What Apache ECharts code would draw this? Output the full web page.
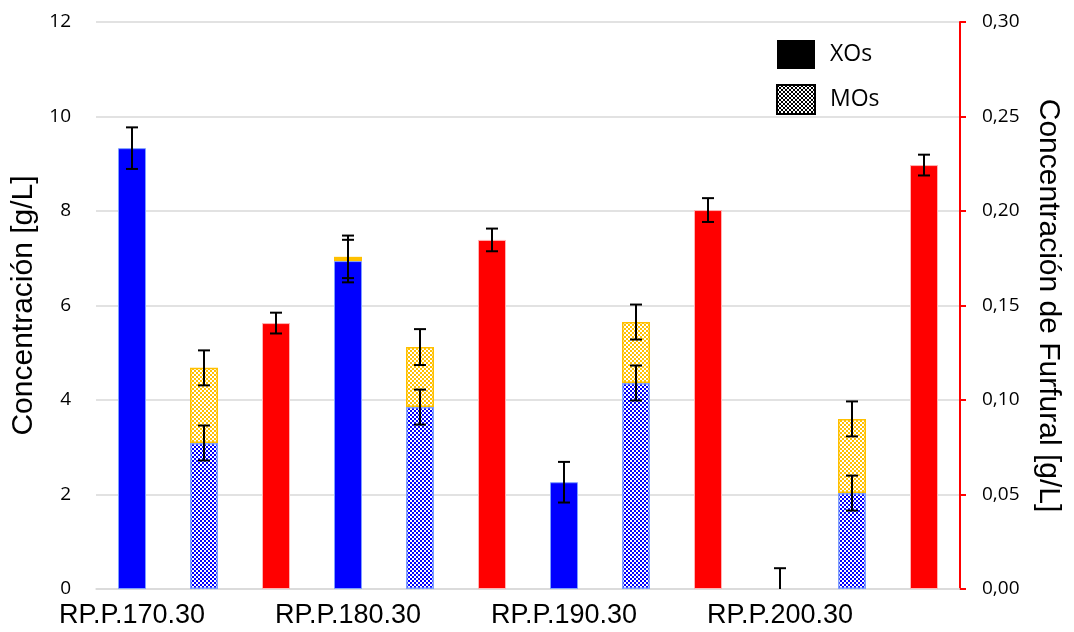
<!DOCTYPE html>
<html>
<head>
<meta charset="utf-8">
<script src="https://cdn.jsdelivr.net/npm/echarts@6/dist/echarts.min.js"></script>
<style>html,body{margin:0;padding:0;background:#fff;}#c{width:1074px;height:632px;}</style>
</head>
<body>
<div id="c"></div>
<script>
// ---- data ----
const groups = ['RP.P.170.30', 'RP.P.180.30', 'RP.P.190.30', 'RP.P.200.30'];
const xos = [9.33, 6.94, 2.26, 0];
const xosErr = [0.44, 0.45, 0.43, 0.44];
const xosTop = [0, 0.09, 0, 0];
const xosTopErr = [0, 0.45, 0, 0];
const mosBlue = [3.09, 3.85, 4.36, 2.03];
const mosBlueErr = [0.37, 0.37, 0.37, 0.37];
const mosYellow = [1.59, 1.27, 1.29, 1.57];
const mosYellowErr = [0.37, 0.38, 0.37, 0.37];
const furfural = [0.1407, 0.1847, 0.2005, 0.2243];
const furfuralErr = [0.0055, 0.006, 0.0063, 0.0055];
const legendNames = ['XOs', 'MOs'];

// ---- patterns ----
function checker(fg, bg) {
  const c = document.createElement('canvas');
  c.width = 4; c.height = 4;
  const g = c.getContext('2d');
  g.fillStyle = bg; g.fillRect(0, 0, 4, 4);
  g.fillStyle = fg; g.fillRect(0, 0, 2, 2); g.fillRect(2, 2, 2, 2);
  return { image: c, repeat: 'repeat' };
}
const bluePat = checker('#0000ff', '#ffffff');
const yellowPat = checker('#ffc000', '#ffffff');
const blackPat = checker('#000000', '#ffffff');

// ---- slots: 3 per group (XOs, MOs, Furfural) ----
const slots = [];
groups.forEach(g => { slots.push(g, g + '#M', g + '#F'); });
function toSlots(arr, offset) {
  const out = slots.map(() => '-');
  arr.forEach((v, i) => { out[i * 3 + offset] = v === 0 ? '-' : v; });
  return out;
}
const errLeft = [];
groups.forEach((g, i) => {
  errLeft.push([i * 3, xos[i] - xosErr[i], xos[i] + xosErr[i]]);
  if (xosTop[i] > 0) {
    const t = xos[i] + xosTop[i];
    errLeft.push([i * 3, t - xosTopErr[i], t + xosTopErr[i]]);
  }
  errLeft.push([i * 3 + 1, mosBlue[i] - mosBlueErr[i], mosBlue[i] + mosBlueErr[i]]);
  const tm = mosBlue[i] + mosYellow[i];
  errLeft.push([i * 3 + 1, tm - mosYellowErr[i], tm + mosYellowErr[i]]);
});
const errRight = furfural.map((v, i) => [i * 3 + 2, v - furfuralErr[i], v + furfuralErr[i]]);

function renderErr(params, api) {
  const x = api.value(0), lo = api.value(1), hi = api.value(2);
  const pHi = api.coord([x, hi]);
  const pLo = api.coord([x, Math.max(lo, 0)]);
  const h = 6;
  const st = { stroke: '#000', lineWidth: 2 };
  const ch = [
    { type: 'line', shape: { x1: pHi[0], y1: pLo[1], x2: pHi[0], y2: pHi[1] }, style: st },
    { type: 'line', shape: { x1: pHi[0] - h, y1: pHi[1], x2: pHi[0] + h, y2: pHi[1] }, style: st }
  ];
  if (lo >= 0) ch.push({ type: 'line', shape: { x1: pLo[0] - h, y1: pLo[1], x2: pLo[0] + h, y2: pLo[1] }, style: st });
  return { type: 'group', children: ch };
}

const BW = 28;
const chart = echarts.init(document.getElementById('c'));
chart.setOption({
  animation: false,
  grid: { left: 96, right: 114, top: 22, bottom: 43, containLabel: false },
  legend: {
    data: legendNames,
    orient: 'vertical', left: 771, top: 35, itemWidth: 38, itemHeight: 29, itemGap: 15,
    icon: 'rect', selectedMode: false,
    textStyle: { fontFamily: 'Open Sans', fontSize: 23, color: '#000', padding: [0, 0, 0, 10] }
  },
  xAxis: {
    type: 'category', data: slots,
    axisLine: { lineStyle: { color: '#d9d9d9', width: 1.5 } },
    axisTick: { show: false },
    axisLabel: {
      interval: (i) => i % 3 === 0,
      formatter: (v) => v.split('#')[0],
      fontFamily: 'Liberation Sans', fontSize: 27, color: '#000', margin: 13
    }
  },
  yAxis: [
    {
      type: 'value', min: 0, max: 12, interval: 2,
      name: 'Concentración [g/L]', nameLocation: 'middle', nameGap: 56, nameRotate: 90,
      nameTextStyle: { fontFamily: 'Liberation Sans', fontSize: 30, color: '#000' },
      axisLine: { show: false }, axisTick: { show: false },
      splitLine: { lineStyle: { color: '#d9d9d9', width: 1.5 } },
      axisLabel: { fontFamily: 'Open Sans', fontSize: 19, color: '#000', margin: 25 }
    },
    {
      type: 'value', min: 0, max: 0.30, interval: 0.05, position: 'right',
      name: 'Concentración de Furfural [g/L]', nameLocation: 'middle', nameGap: 73, nameRotate: -90,
      nameTextStyle: { fontFamily: 'Liberation Sans', fontSize: 30, color: '#000' },
      axisLine: { show: true, lineStyle: { color: '#ff0000', width: 2 } },
      axisTick: { show: true, inside: false, length: 6, lineStyle: { color: '#ff0000', width: 2 } },
      splitLine: { show: false },
      axisLabel: { fontFamily: 'Open Sans', fontSize: 19, color: '#000', margin: 22,
        formatter: (v) => v.toFixed(2).replace('.', ',') }
    }
  ],
  series: [
    { name: 'XOs', type: 'bar', data: [], itemStyle: { color: '#000' } },
    { name: 'MOs', type: 'bar', data: [], itemStyle: { color: blackPat, borderColor: '#000', borderWidth: 1 } },
    { name: 'xosBlue', type: 'bar', stack: 's', barWidth: BW, barGap: '-100%', data: toSlots(xos, 0),
      itemStyle: { color: '#0000ff', borderColor: '#7f9fff', borderWidth: 1 } },
    { name: 'xosTop', type: 'bar', stack: 's', barWidth: BW, barGap: '-100%', data: toSlots(xosTop, 0),
      itemStyle: { color: '#ffc000' } },
    { name: 'mosBlue', type: 'bar', stack: 's', barWidth: BW, barGap: '-100%', data: toSlots(mosBlue, 1),
      itemStyle: { color: bluePat, borderColor: '#7f9fff', borderWidth: 1.5 } },
    { name: 'mosYellow', type: 'bar', stack: 's', barWidth: BW, barGap: '-100%', data: toSlots(mosYellow, 1),
      itemStyle: { color: yellowPat, borderColor: '#ffc000', borderWidth: 1.5 } },
    { name: 'furfural', type: 'bar', yAxisIndex: 1, barWidth: BW, barGap: '-100%', data: toSlots(furfural, 2),
      itemStyle: { color: '#ff0000', borderColor: '#ffb3b3', borderWidth: 1 } },
    { name: 'errL', type: 'custom', yAxisIndex: 0, data: errLeft, renderItem: renderErr, z: 10, silent: true },
    { name: 'errR', type: 'custom', yAxisIndex: 1, data: errRight, renderItem: renderErr, z: 10, silent: true }
  ]
});
</script>
</body>
</html>
